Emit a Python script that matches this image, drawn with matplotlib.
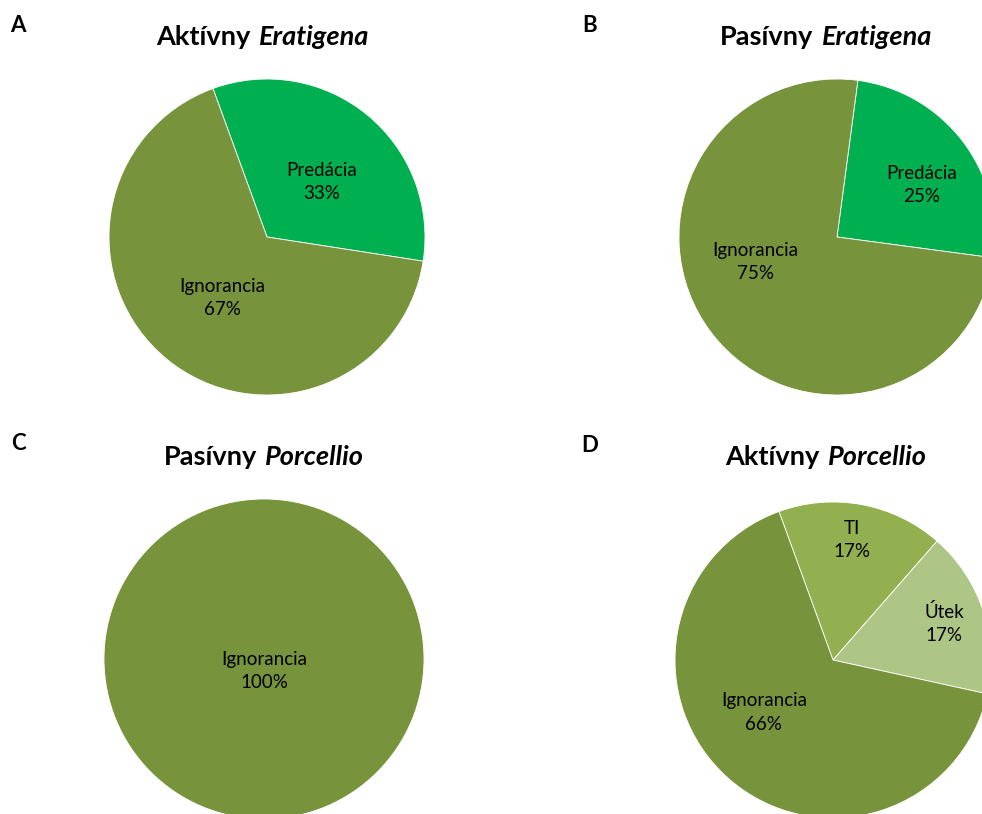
import numpy as np
import matplotlib.pyplot as plt
from matplotlib.offsetbox import TextArea, HPacker, AnnotationBbox

plt.rcParams['font.family'] = ['Lato', 'DejaVu Sans']

# data
labels_a = ['Predácia', 'Ignorancia']
values_a = [33, 67]
labels_b = ['Predácia', 'Ignorancia']
values_b = [25, 75]
labels_c = ['Ignorancia']
values_c = [100]
labels_d = ['TI', 'Útek', 'Ignorancia']
values_d = [17, 17, 66]

colors = {'Predácia': '#00B050', 'Ignorancia': '#77933C',
          'TI': '#92B050', 'Útek': '#ADC686'}

W, H = 982, 814
fig = plt.figure(figsize=(W / 100, H / 100), dpi=100)

# letter, title, italic part, labels, values, center px, radius px, start angle,
# label placement (distance, angle offset), title position
panels = [
    ('A', 'Aktívny', 'Eratigena', labels_a, values_a, (267, 237), 158, 110,
     [(0.49, -5.6), (0.48, 3)], (263, 37)),
    ('B', 'Pasívny', 'Eratigena', labels_b, values_b, (837, 237), 158, 82.4,
     [(0.63, -6), (0.54, -20.5)], (826, 37)),
    ('C', 'Pasívny', 'Porcellio', labels_c, values_c, (264, 659), 160, 90,
     [(0.075, 0)], (264, 457)),
    ('D', 'Aktívny', 'Porcellio', labels_d, values_d, (833, 660), 158, 110,
     [(0.77, 1.6), (0.74, 0), (0.55, -11.6)], (826, 457)),
]
letter_pos = {'A': (18, 25), 'B': (590, 25), 'C': (18, 443), 'D': (590, 445)}

for letter, t1, t2, labs, vals, (cx, cy), r, start, place, tpos in panels:
    ax = fig.add_axes([(cx - r) / W, 1 - (cy + r) / H, 2 * r / W, 2 * r / H])
    wedges, texts = ax.pie(vals, colors=[colors[l] for l in labs], startangle=start,
                           counterclock=False, radius=1,
                           labels=[f'{l}\n{v}%' for l, v in zip(labs, vals)],
                           labeldistance=0.5,
                           wedgeprops=dict(edgecolor='white', linewidth=0.6),
                           textprops=dict(fontsize=13.5, ha='center', va='center',
                                          linespacing=1.45))
    for w, t, (d, off) in zip(wedges, texts, place):
        th = np.deg2rad((w.theta1 + w.theta2) / 2 + off)
        t.set_position((d * np.cos(th), d * np.sin(th)))
        t.set_ha('center')
        t.set_va('center')
    ax.set_xlim(-1, 1)
    ax.set_ylim(-1, 1)
    ax.set_aspect('equal')
    ax.axis('off')

    fig.text(letter_pos[letter][0] / W, 1 - letter_pos[letter][1] / H, letter,
             fontsize=16, fontweight='bold', ha='center', va='center')
    box = HPacker(children=[TextArea(t1, textprops=dict(fontsize=19.5, fontweight='bold')),
                            TextArea(t2, textprops=dict(fontsize=19.5, fontweight='bold',
                                                        fontstyle='italic'))],
                  align='baseline', pad=0, sep=6)
    ab = AnnotationBbox(box, (tpos[0] / W, 1 - tpos[1] / H), xycoords='figure fraction',
                        frameon=False, box_alignment=(0.5, 0.5))
    fig.add_artist(ab)

fig.savefig('out.png', dpi=100)
